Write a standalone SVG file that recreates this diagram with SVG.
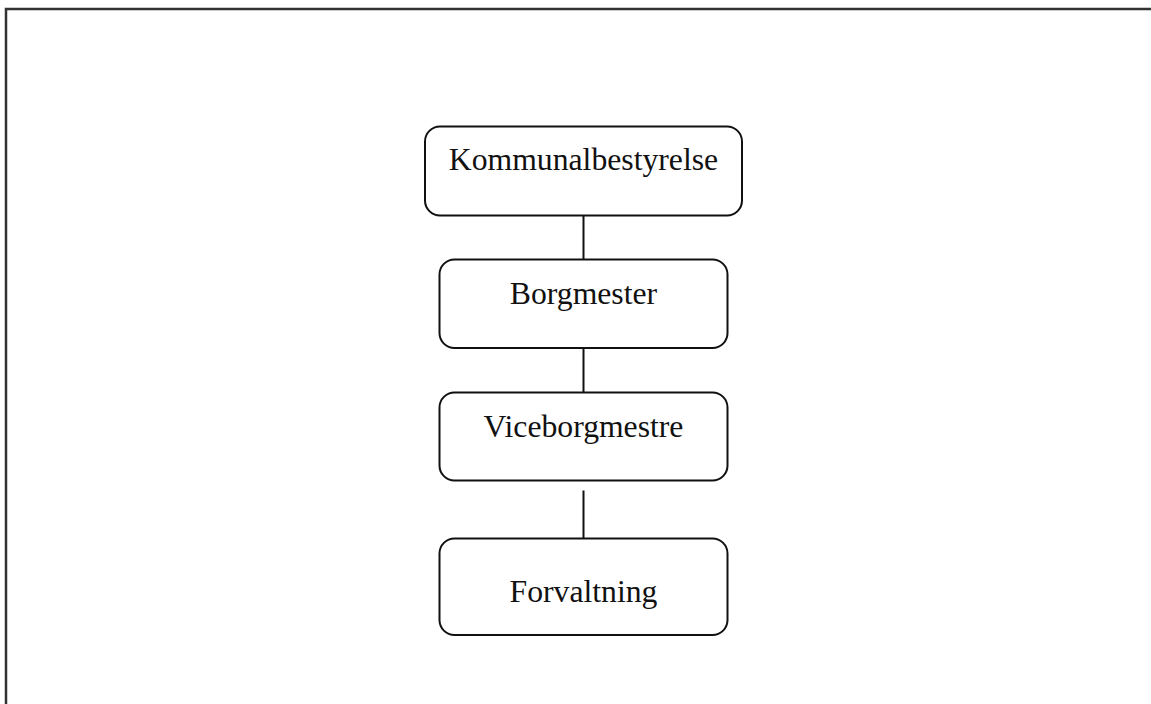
<svg xmlns="http://www.w3.org/2000/svg" width="1151" height="704" viewBox="0 0 1151 704">
<style>
.box{fill:#fff;stroke:#111;stroke-width:2}
.lbl{font-family:"Liberation Serif","Times New Roman",serif;font-size:31.7px;fill:#111;text-anchor:middle}
.conn{stroke:#111;stroke-width:2;fill:none}
.frame{stroke:#333;stroke-width:2.5;fill:none}
</style>
<rect width="1151" height="704" fill="#fff"/>
<path class="frame" d="M6 704 V9 H1151"/>
<g id="connectors">
<line class="conn" x1="583.5" y1="215" x2="583.5" y2="259"/>
<line class="conn" x1="583.5" y1="348" x2="583.5" y2="392"/>
<line class="conn" x1="583.5" y1="490.5" x2="583.5" y2="538.5"/>
</g>
<g id="node-kommunalbestyrelse">
<rect class="box" x="425" y="126.5" width="317" height="89" rx="15"/>
<text class="lbl" x="583.5" y="170">Kommunalbestyrelse</text>
</g>
<g id="node-borgmester">
<rect class="box" x="439.5" y="259.5" width="288" height="88.5" rx="15"/>
<text class="lbl" x="583.5" y="303.5">Borgmester</text>
</g>
<g id="node-viceborgmestre">
<rect class="box" x="439.5" y="392.5" width="288" height="88" rx="15"/>
<text class="lbl" x="583.5" y="436.5">Viceborgmestre</text>
</g>
<g id="node-forvaltning">
<rect class="box" x="439.5" y="538.5" width="288" height="96.5" rx="15"/>
<text class="lbl" x="583.5" y="601.5">Forvaltning</text>
</g>
</svg>
